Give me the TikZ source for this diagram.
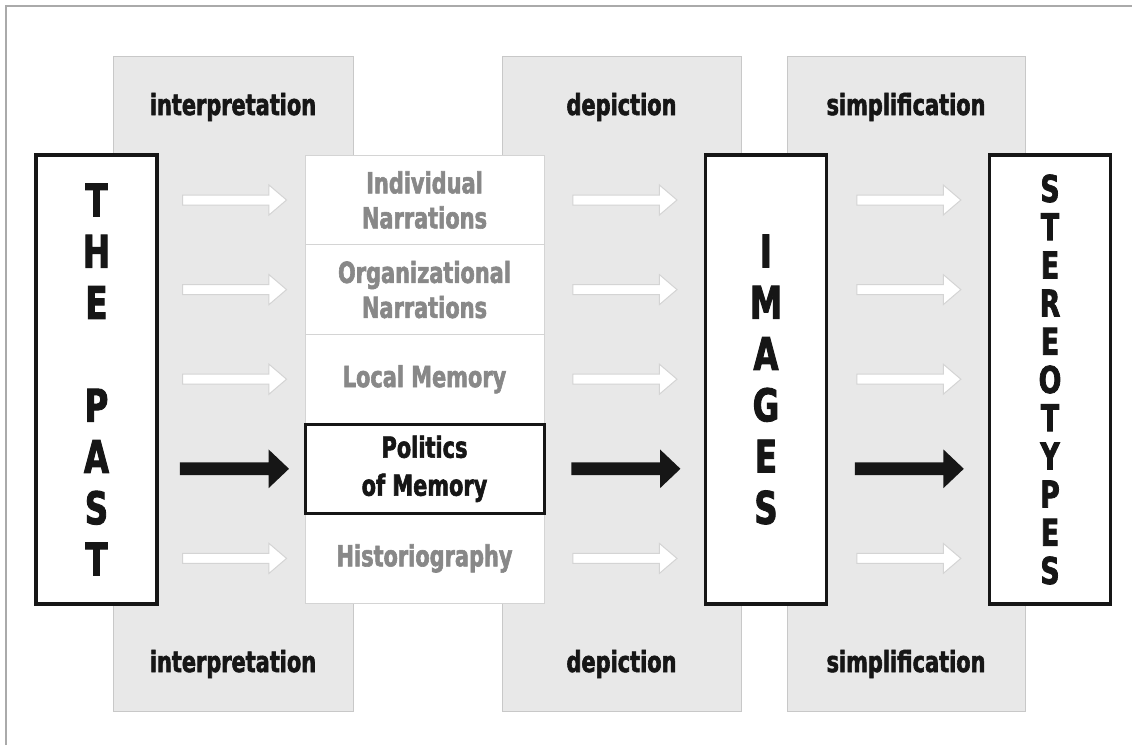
\documentclass[tikz,border=0pt]{standalone}
\usepackage{fontspec}
\setmainfont{DejaVu Sans}[FakeStretch=0.72, BoldFeatures={FakeBold=2}]
\usetikzlibrary{shapes.arrows}

\definecolor{colgray}{RGB}{232,232,232}
\definecolor{colline}{RGB}{200,200,200}
\definecolor{cellline}{RGB}{212,212,212}
\definecolor{celltext}{RGB}{136,136,136}
\definecolor{framegray}{RGB}{170,170,170}
\definecolor{inkblack}{RGB}{22,22,22}

\tikzset{every picture/.style={line width=0.75pt}}
\tikzset{
  column/.style={fill=colgray, draw=colline, line width=1pt},
  collabel/.style={anchor=base, text=inkblack, font=\fontsize{29pt}{34pt}\selectfont\bfseries},
  bigbox/.style={draw=inkblack, line width=3.5pt, fill=white, minimum width=121pt, minimum height=449pt, inner sep=0pt, align=center, text=inkblack},
  cell/.style={draw=cellline, line width=1pt, fill=white, minimum width=239pt, minimum height=89.6pt, inner sep=0pt, align=center, text=celltext, font=\fontsize{29pt}{35pt}\selectfont\bfseries},
  polcell/.style={cell, draw=inkblack, line width=3pt, text=inkblack, font=\fontsize{29pt}{38pt}\selectfont\bfseries},
  whitearrow/.style={single arrow, draw=cellline, fill=white, line width=1pt, minimum height=104pt, inner xsep=0pt, inner ysep=4.5pt, single arrow head extend=10pt, single arrow tip angle=81},
  blackarrow/.style={single arrow, fill=inkblack, minimum height=109pt, inner xsep=0pt, inner ysep=6pt, single arrow head extend=13pt, single arrow tip angle=87}
}

\begin{document}
\begin{tikzpicture}[x=1pt,y=1pt,yscale=-1,xscale=1]
\useasboundingbox (0,0) rectangle (1132,745);
\draw [framegray, line width=1.5pt] (6,745) -- (6,6) -- (1132,6);

% gray columns
\draw [column] (113,56) rectangle (353,711);
\draw [column] (502,56) rectangle (741,711);
\draw [column] (787,56) rectangle (1025,711);

\node [collabel] (interpTop) at (233,115) {interpretation};
\node [collabel] (depicTop) at (621.5,115) {depiction};
\node [collabel] (simplTop) at (906,115) {simplification};
\node [collabel] (interpBot) at (233,672) {interpretation};
\node [collabel] (depicBot) at (621.5,672) {depiction};
\node [collabel] (simplBot) at (906,672) {simplification};

% main boxes
\node [bigbox, font=\fontsize{45pt}{51.3pt}\selectfont\bfseries] (past) at (96.5,379.5) {T\\H\\E\\[51.3pt]P\\A\\S\\T};
\node [bigbox, font=\fontsize{45pt}{51.3pt}\selectfont\bfseries] (images) at (766,379.5) {I\\M\\A\\G\\E\\S};
\node [bigbox, font=\fontsize{37pt}{38.2pt}\selectfont\bfseries] (stereo) at (1050,379.5) {S\\T\\E\\R\\E\\O\\T\\Y\\P\\E\\S};

% narration stack
\node [cell] (indiv) at (424.5,200) {Individual\\Narrations};
\node [cell] (organ) at (424.5,289.6) {Organizational\\Narrations};
\node [cell] (local) at (424.5,379.2) {Local Memory};
\node [cell] (histo) at (424.5,558.4) {Historiography};
\node [polcell] (polit) at (424.5,468.8) {Politics\\of Memory};

% arrows
\path (past.east |- indiv) -- node [whitearrow] {} (indiv.west);
\path (past.east |- organ) -- node [whitearrow] {} (organ.west);
\path (past.east |- local) -- node [whitearrow] {} (local.west);
\path (past.east |- histo) -- node [whitearrow] {} (histo.west);
\path (past.east |- polit) -- node [blackarrow] {} (polit.west);

\path (indiv.east) -- node [whitearrow, pos=0.487] {} (images.west |- indiv);
\path (organ.east) -- node [whitearrow, pos=0.487] {} (images.west |- organ);
\path (local.east) -- node [whitearrow, pos=0.487] {} (images.west |- local);
\path (histo.east) -- node [whitearrow, pos=0.487] {} (images.west |- histo);
\path (polit.east) -- node [blackarrow, pos=0.487] {} (images.west |- polit);

\path (images.east |- indiv) -- node [whitearrow, pos=0.487] {} (stereo.west |- indiv);
\path (images.east |- organ) -- node [whitearrow, pos=0.487] {} (stereo.west |- organ);
\path (images.east |- local) -- node [whitearrow, pos=0.487] {} (stereo.west |- local);
\path (images.east |- histo) -- node [whitearrow, pos=0.487] {} (stereo.west |- histo);
\path (images.east |- polit) -- node [blackarrow, pos=0.487] {} (stereo.west |- polit);

\end{tikzpicture}
\end{document}
